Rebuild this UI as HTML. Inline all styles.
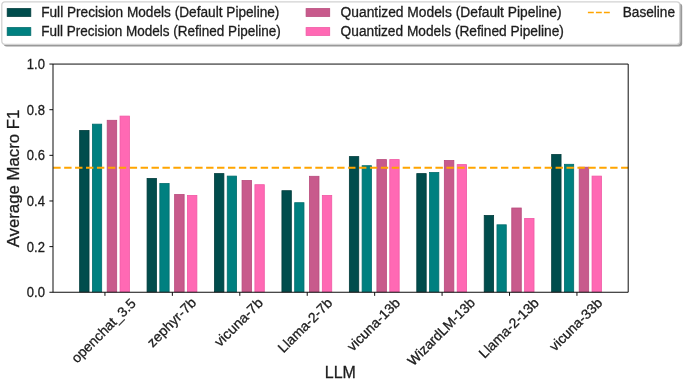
<!DOCTYPE html>
<html><head><meta charset="utf-8"><style>
html,body{margin:0;padding:0;background:#fff;}
body{width:685px;height:380px;overflow:hidden;font-family:"Liberation Sans",sans-serif;}
svg{display:block;will-change:transform;}
text{fill:#1c1c1c;stroke:#1c1c1c;stroke-width:0.3px;}
</style></head><body>
<svg width="685" height="380" viewBox="0 0 685 380">
<rect width="685" height="380" fill="#fff"/>
<rect x="79.64" y="130.47" width="9.40" height="161.38" fill="#004d4d" stroke="#003c3c" stroke-width="0.8"/>
<rect x="92.39" y="124.16" width="9.30" height="167.69" fill="#008080" stroke="#006c6c" stroke-width="0.8"/>
<rect x="107.19" y="120.30" width="9.50" height="171.55" fill="#c85a8c" stroke="#b84a7c" stroke-width="0.8"/>
<rect x="120.04" y="116.10" width="9.40" height="175.75" fill="#ff69b4" stroke="#f058a4" stroke-width="0.8"/>
<rect x="147.07" y="178.46" width="9.40" height="113.39" fill="#004d4d" stroke="#003c3c" stroke-width="0.8"/>
<rect x="159.82" y="183.50" width="9.30" height="108.35" fill="#008080" stroke="#006c6c" stroke-width="0.8"/>
<rect x="174.62" y="194.50" width="9.50" height="97.35" fill="#c85a8c" stroke="#b84a7c" stroke-width="0.8"/>
<rect x="187.47" y="195.40" width="9.40" height="96.45" fill="#ff69b4" stroke="#f058a4" stroke-width="0.8"/>
<rect x="214.50" y="173.60" width="9.40" height="118.25" fill="#004d4d" stroke="#003c3c" stroke-width="0.8"/>
<rect x="227.25" y="176.10" width="9.30" height="115.75" fill="#008080" stroke="#006c6c" stroke-width="0.8"/>
<rect x="242.05" y="180.50" width="9.50" height="111.35" fill="#c85a8c" stroke="#b84a7c" stroke-width="0.8"/>
<rect x="254.90" y="184.70" width="9.40" height="107.15" fill="#ff69b4" stroke="#f058a4" stroke-width="0.8"/>
<rect x="281.93" y="190.70" width="9.40" height="101.15" fill="#004d4d" stroke="#003c3c" stroke-width="0.8"/>
<rect x="294.68" y="202.70" width="9.30" height="89.15" fill="#008080" stroke="#006c6c" stroke-width="0.8"/>
<rect x="309.48" y="176.30" width="9.50" height="115.55" fill="#c85a8c" stroke="#b84a7c" stroke-width="0.8"/>
<rect x="322.33" y="195.50" width="9.40" height="96.35" fill="#ff69b4" stroke="#f058a4" stroke-width="0.8"/>
<rect x="349.36" y="156.60" width="9.40" height="135.25" fill="#004d4d" stroke="#003c3c" stroke-width="0.8"/>
<rect x="362.11" y="165.70" width="9.30" height="126.15" fill="#008080" stroke="#006c6c" stroke-width="0.8"/>
<rect x="376.91" y="159.60" width="9.50" height="132.25" fill="#c85a8c" stroke="#b84a7c" stroke-width="0.8"/>
<rect x="389.76" y="159.60" width="9.40" height="132.25" fill="#ff69b4" stroke="#f058a4" stroke-width="0.8"/>
<rect x="416.79" y="173.60" width="9.40" height="118.25" fill="#004d4d" stroke="#003c3c" stroke-width="0.8"/>
<rect x="429.54" y="172.50" width="9.30" height="119.35" fill="#008080" stroke="#006c6c" stroke-width="0.8"/>
<rect x="444.34" y="160.50" width="9.50" height="131.35" fill="#c85a8c" stroke="#b84a7c" stroke-width="0.8"/>
<rect x="457.19" y="164.60" width="9.40" height="127.25" fill="#ff69b4" stroke="#f058a4" stroke-width="0.8"/>
<rect x="484.22" y="215.50" width="9.40" height="76.35" fill="#004d4d" stroke="#003c3c" stroke-width="0.8"/>
<rect x="496.97" y="224.80" width="9.30" height="67.05" fill="#008080" stroke="#006c6c" stroke-width="0.8"/>
<rect x="511.77" y="208.00" width="9.50" height="83.85" fill="#c85a8c" stroke="#b84a7c" stroke-width="0.8"/>
<rect x="524.62" y="218.50" width="9.40" height="73.35" fill="#ff69b4" stroke="#f058a4" stroke-width="0.8"/>
<rect x="551.65" y="154.50" width="9.40" height="137.35" fill="#004d4d" stroke="#003c3c" stroke-width="0.8"/>
<rect x="564.40" y="164.30" width="9.30" height="127.55" fill="#008080" stroke="#006c6c" stroke-width="0.8"/>
<rect x="579.20" y="167.20" width="9.50" height="124.65" fill="#c85a8c" stroke="#b84a7c" stroke-width="0.8"/>
<rect x="592.05" y="176.10" width="9.40" height="115.75" fill="#ff69b4" stroke="#f058a4" stroke-width="0.8"/>
<line x1="53.25" y1="167.65" x2="628.20" y2="167.65" stroke="#ffa500" stroke-width="2.05" stroke-dasharray="7.4 3.52"/>
<path d="M53.0 64.07H628.2V292.25H53.0Z" fill="none" stroke="#000" stroke-width="0.95" stroke-linejoin="miter"/>
<line x1="49.40" y1="292.25" x2="53.0" y2="292.25" stroke="#000" stroke-width="0.95"/>
<text x="44.9" y="297.15" font-size="14.2" text-anchor="end" textLength="18.1" lengthAdjust="spacingAndGlyphs" font-family="Liberation Sans, sans-serif" fill="#000">0.0</text>
<line x1="49.40" y1="246.61" x2="53.0" y2="246.61" stroke="#000" stroke-width="0.95"/>
<text x="44.9" y="251.51" font-size="14.2" text-anchor="end" textLength="18.1" lengthAdjust="spacingAndGlyphs" font-family="Liberation Sans, sans-serif" fill="#000">0.2</text>
<line x1="49.40" y1="200.97" x2="53.0" y2="200.97" stroke="#000" stroke-width="0.95"/>
<text x="44.9" y="205.87" font-size="14.2" text-anchor="end" textLength="18.1" lengthAdjust="spacingAndGlyphs" font-family="Liberation Sans, sans-serif" fill="#000">0.4</text>
<line x1="49.40" y1="155.33" x2="53.0" y2="155.33" stroke="#000" stroke-width="0.95"/>
<text x="44.9" y="160.23" font-size="14.2" text-anchor="end" textLength="18.1" lengthAdjust="spacingAndGlyphs" font-family="Liberation Sans, sans-serif" fill="#000">0.6</text>
<line x1="49.40" y1="109.69" x2="53.0" y2="109.69" stroke="#000" stroke-width="0.95"/>
<text x="44.9" y="114.59" font-size="14.2" text-anchor="end" textLength="18.1" lengthAdjust="spacingAndGlyphs" font-family="Liberation Sans, sans-serif" fill="#000">0.8</text>
<line x1="49.40" y1="64.05" x2="53.0" y2="64.05" stroke="#000" stroke-width="0.95"/>
<text x="44.9" y="68.95" font-size="14.2" text-anchor="end" textLength="18.1" lengthAdjust="spacingAndGlyphs" font-family="Liberation Sans, sans-serif" fill="#000">1.0</text>
<line x1="104.94" y1="292.25" x2="104.94" y2="295.85" stroke="#000" stroke-width="0.95"/>
<text transform="translate(106.90,334.05) rotate(-45)" font-size="13.8" text-anchor="middle" textLength="84.26" lengthAdjust="spacingAndGlyphs" font-family="Liberation Sans, sans-serif" fill="#000">openchat_3.5</text>
<line x1="172.37" y1="292.25" x2="172.37" y2="295.85" stroke="#000" stroke-width="0.95"/>
<text transform="translate(174.85,325.70) rotate(-45)" font-size="13.8" text-anchor="middle" textLength="62.84" lengthAdjust="spacingAndGlyphs" font-family="Liberation Sans, sans-serif" fill="#000">zephyr-7b</text>
<line x1="239.80" y1="292.25" x2="239.80" y2="295.85" stroke="#000" stroke-width="0.95"/>
<text transform="translate(241.95,325.60) rotate(-45)" font-size="13.8" text-anchor="middle" textLength="61.88" lengthAdjust="spacingAndGlyphs" font-family="Liberation Sans, sans-serif" fill="#000">vicuna-7b</text>
<line x1="307.23" y1="292.25" x2="307.23" y2="295.85" stroke="#000" stroke-width="0.95"/>
<text transform="translate(308.45,328.60) rotate(-45)" font-size="13.8" text-anchor="middle" textLength="70.29" lengthAdjust="spacingAndGlyphs" font-family="Liberation Sans, sans-serif" fill="#000">Llama-2-7b</text>
<line x1="374.66" y1="292.25" x2="374.66" y2="295.85" stroke="#000" stroke-width="0.95"/>
<text transform="translate(376.85,327.90) rotate(-45)" font-size="13.8" text-anchor="middle" textLength="67.85" lengthAdjust="spacingAndGlyphs" font-family="Liberation Sans, sans-serif" fill="#000">vicuna-13b</text>
<line x1="442.09" y1="292.25" x2="442.09" y2="295.85" stroke="#000" stroke-width="0.95"/>
<text transform="translate(444.55,335.05) rotate(-45)" font-size="13.8" text-anchor="middle" textLength="88.73" lengthAdjust="spacingAndGlyphs" font-family="Liberation Sans, sans-serif" fill="#000">WizardLM-13b</text>
<line x1="509.52" y1="292.25" x2="509.52" y2="295.85" stroke="#000" stroke-width="0.95"/>
<text transform="translate(512.10,331.40) rotate(-45)" font-size="13.8" text-anchor="middle" textLength="78.32" lengthAdjust="spacingAndGlyphs" font-family="Liberation Sans, sans-serif" fill="#000">Llama-2-13b</text>
<line x1="576.95" y1="292.25" x2="576.95" y2="295.85" stroke="#000" stroke-width="0.95"/>
<text transform="translate(579.10,327.90) rotate(-45)" font-size="13.8" text-anchor="middle" textLength="67.92" lengthAdjust="spacingAndGlyphs" font-family="Liberation Sans, sans-serif" fill="#000">vicuna-33b</text>
<text x="340.3" y="377.6" font-size="16.8" text-anchor="middle" textLength="31.0" lengthAdjust="spacingAndGlyphs" font-family="Liberation Sans, sans-serif" fill="#000">LLM</text>
<text transform="translate(19.2,178.5) rotate(-90)" font-size="17.4" text-anchor="middle" textLength="137.7" lengthAdjust="spacingAndGlyphs" font-family="Liberation Sans, sans-serif" fill="#000">Average Macro F1</text>
<rect x="3.6" y="3.6" width="678.6" height="43" rx="3" fill="#555" fill-opacity="0.6"/>
<rect x="1.8" y="1.9" width="678" height="42.4" rx="3" fill="#fff" stroke="#d2d2d2" stroke-width="1.3"/>
<rect x="7.20" y="8.60" width="23.6" height="7.8" fill="#004d4d" stroke="#003c3c" stroke-width="0.8"/>
<text x="41.2" y="16.7" font-size="13.8" textLength="238.2" lengthAdjust="spacingAndGlyphs" font-family="Liberation Sans, sans-serif" fill="#000">Full Precision Models (Default Pipeline)</text>
<rect x="7.20" y="27.60" width="23.6" height="7.8" fill="#008080" stroke="#006c6c" stroke-width="0.8"/>
<text x="41.2" y="36.2" font-size="13.8" textLength="239.5" lengthAdjust="spacingAndGlyphs" font-family="Liberation Sans, sans-serif" fill="#000">Full Precision Models (Refined Pipeline)</text>
<rect x="306.10" y="8.60" width="23.6" height="7.8" fill="#c85a8c" stroke="#b84a7c" stroke-width="0.8"/>
<text x="340.6" y="16.7" font-size="13.8" textLength="220.9" lengthAdjust="spacingAndGlyphs" font-family="Liberation Sans, sans-serif" fill="#000">Quantized Models (Default Pipeline)</text>
<rect x="306.10" y="27.60" width="23.6" height="7.8" fill="#ff69b4" stroke="#f058a4" stroke-width="0.8"/>
<text x="340.6" y="36.2" font-size="13.8" textLength="223.3" lengthAdjust="spacingAndGlyphs" font-family="Liberation Sans, sans-serif" fill="#000">Quantized Models (Refined Pipeline)</text>
<line x1="587.9" y1="12.54" x2="610" y2="12.54" stroke="#ffa500" stroke-width="1.4" stroke-dasharray="5.9 2.1"/>
<text x="622.8" y="16.7" font-size="13.8" textLength="52.2" lengthAdjust="spacingAndGlyphs" font-family="Liberation Sans, sans-serif" fill="#000">Baseline</text>
</svg>
</body></html>
